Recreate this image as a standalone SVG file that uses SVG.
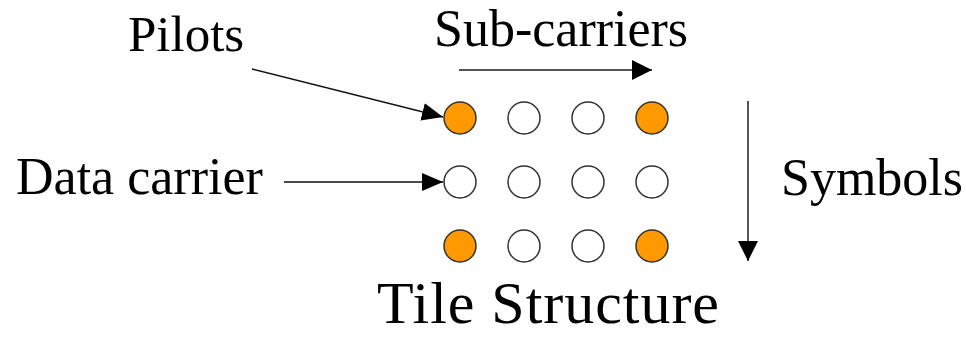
<svg xmlns="http://www.w3.org/2000/svg" width="966" height="337" viewBox="0 0 966 337">
  <style>
    .lbl { font-family: "Liberation Serif", "Times New Roman", serif; fill: #000; }
    .pilot { fill: #FF9900; stroke: #333; stroke-width: 1.5; }
    .data { fill: #fff; stroke: #333; stroke-width: 1.5; }
    .axis { stroke: #555; stroke-width: 2; fill: none; }
    .ptr { stroke: #111; stroke-width: 1.4; fill: none; }
  </style>
  <defs>
    <marker id="headBig" viewBox="0 0 20 20" refX="20" refY="10" markerWidth="20" markerHeight="20" markerUnits="userSpaceOnUse" orient="auto">
      <path d="M0,0 L20,10 L0,20 Z" fill="#000"/>
    </marker>
    <marker id="headPtr" viewBox="0 0 21 18" refX="21" refY="9" markerWidth="21" markerHeight="18" markerUnits="userSpaceOnUse" orient="auto">
      <path d="M0,0 L21,9 L0,18 Z" fill="#000"/>
    </marker>
  </defs>

  <!-- labels -->
  <text class="lbl" x="128" y="51" font-size="51">Pilots</text>
  <text class="lbl" x="434" y="46" font-size="52">Sub-carriers</text>
  <text class="lbl" x="16" y="194" font-size="52">Data carrier</text>
  <text class="lbl" x="781" y="195" font-size="52">Symbols</text>
  <text class="lbl" x="377" y="323" font-size="60" textLength="342" lengthAdjust="spacing">Tile Structure</text>

  <!-- connectors -->
  <g id="connectors">
    <line class="axis" x1="459" y1="70" x2="652" y2="70" marker-end="url(#headBig)"/>
    <line class="axis" x1="748" y1="101" x2="748" y2="261" marker-end="url(#headBig)"/>
    <line class="ptr" x1="252" y1="69" x2="443" y2="117" marker-end="url(#headPtr)"/>
    <line class="ptr" x1="284" y1="182" x2="443" y2="182" marker-end="url(#headPtr)"/>
  </g>

  <!-- tile grid: 3 symbols x 4 sub-carriers -->
  <g id="c-r1-1"><circle class="pilot" cx="460" cy="118" r="16"/></g>
  <g id="c-r1-2"><circle class="data" cx="524" cy="118" r="16"/></g>
  <g id="c-r1-3"><circle class="data" cx="588" cy="118" r="16"/></g>
  <g id="c-r1-4"><circle class="pilot" cx="652" cy="118" r="16"/></g>

  <g id="c-r2-1"><circle class="data" cx="460" cy="182" r="16"/></g>
  <g id="c-r2-2"><circle class="data" cx="524" cy="182" r="16"/></g>
  <g id="c-r2-3"><circle class="data" cx="588" cy="182" r="16"/></g>
  <g id="c-r2-4"><circle class="data" cx="652" cy="182" r="16"/></g>

  <g id="c-r3-1"><circle class="pilot" cx="460" cy="246" r="16"/></g>
  <g id="c-r3-2"><circle class="data" cx="524" cy="246" r="16"/></g>
  <g id="c-r3-3"><circle class="data" cx="588" cy="246" r="16"/></g>
  <g id="c-r3-4"><circle class="pilot" cx="652" cy="246" r="16"/></g>
</svg>
